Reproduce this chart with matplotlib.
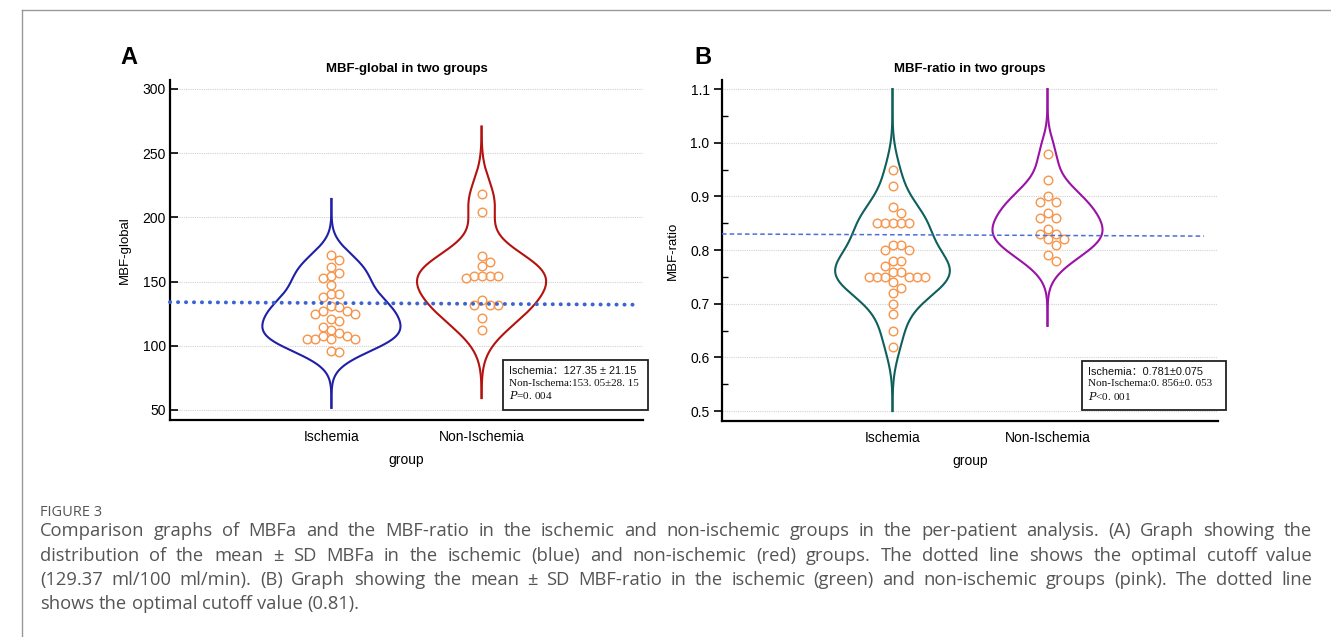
import numpy as np
import matplotlib
matplotlib.use("Agg")
import matplotlib.pyplot as plt
from matplotlib.patches import Rectangle
from matplotlib.lines import Line2D

# ---------------- data ----------------
groups = ["Ischemia", "Non-Ischemia"]

mbf_global_isch = [171, 167, 161, 157, 154, 153, 147, 140, 140, 138, 131, 130,
                   127, 127, 125, 125, 121, 119, 115, 112, 110, 108, 108,
                   105, 105, 105, 105, 96, 95]
mbf_global_non = [218, 204, 170, 165, 162, 154, 154, 154, 154, 153, 136,
                  132, 132, 132, 122, 112]
mbf_global_cutoff = [134, 132]

mbf_ratio_isch = [0.95, 0.92, 0.88, 0.87, 0.85, 0.85, 0.85, 0.85, 0.85,
                  0.81, 0.81, 0.80, 0.80, 0.78, 0.78, 0.77, 0.76, 0.76,
                  0.75, 0.75, 0.75, 0.75, 0.75, 0.75, 0.74, 0.73, 0.72,
                  0.70, 0.68, 0.65, 0.62]
mbf_ratio_non = [0.98, 0.93, 0.90, 0.89, 0.89, 0.87, 0.86, 0.86, 0.84,
                 0.83, 0.83, 0.82, 0.82, 0.81, 0.79, 0.78]
mbf_ratio_cutoff = [0.830, 0.826]

yticks_a = [50, 100, 150, 200, 250, 300]
yticks_b = [0.5, 0.6, 0.7, 0.8, 0.9, 1.0, 1.1]

box_a = ["Ischemia：127.35 ± 21.15", "Non-Ischema:153. 05±28. 15", "=0. 004"]
box_b = ["Ischemia：0.781±0.075", "Non-Ischema:0. 856±0. 053", "<0. 001"]

caption_lines = [
    "Comparison graphs of MBFa and the MBF-ratio in the ischemic and non-ischemic groups in the per-patient analysis. (A) Graph showing the",
    "distribution of the mean ± SD MBFa in the ischemic (blue) and non-ischemic (red) groups. The dotted line shows the optimal cutoff value",
    "(129.37 ml/100 ml/min). (B) Graph showing the mean ± SD MBF-ratio in the ischemic (green) and non-ischemic groups (pink). The dotted line",
    "shows the optimal cutoff value (0.81).",
]

# ---------------- figure ----------------
W, H = 1331, 637
fig = plt.figure(figsize=(W / 100, H / 100), dpi=100)
fig.patch.set_facecolor("white")

SANS = ["Liberation Sans", "DejaVu Sans"]
SERIF = ["Liberation Serif", "DejaVu Serif"]
CJK = ["Liberation Sans", "Noto Sans CJK SC", "DejaVu Sans"]


def fx(px):
    return px / W


def fy(py):
    return 1 - py / H


axA = fig.add_axes([fx(170), fy(420), fx(643) - fx(170), fy(80) - fy(420)])
axB = fig.add_axes([fx(722), fy(421), fx(1218) - fx(722), fy(80) - fy(421)])

axA.set_xlim(-1.075, 2.075)
axA.set_ylim(42.2, 307)
axB.set_xlim(-1.1, 2.1)
axB.set_ylim(0.4814, 1.117)


def kde_curve(vals, cut, lower=None, upper=None):
    v = np.asarray(vals, float)
    n = len(v)
    bw = v.std(ddof=1) * n ** (-1 / 5)
    lo = v.min() - cut * bw
    hi = v.max() + cut * bw
    if upper is not None:
        hi = min(hi, upper)
    if lower is not None:
        lo = max(lo, lower)
    g = np.linspace(lo, hi, 400)
    d = np.exp(-0.5 * ((g[:, None] - v[None, :]) / bw) ** 2).sum(1)
    return g, d / d.max()


def swarm(ax, xc, vals, diam_px):
    trans = ax.transData
    x0 = trans.transform((0, 0))[0]
    x1 = trans.transform((1, 0))[0]
    ppu = x1 - x0
    placed = []
    xs, ys = [], []
    order = [0]
    for i in range(1, 20):
        order += [i, -i]
    for v in sorted(vals, reverse=True):
        py = trans.transform((xc, v))[1]
        for k in order:
            px = k * diam_px
            if all((px - a) ** 2 + (py - b) ** 2 >= (diam_px * 0.98) ** 2 for a, b in placed):
                break
        placed.append((px, py))
        xs.append(xc + px / ppu)
        ys.append(v)
    return xs, ys


def style_axes(ax, yticks, fmt, ylabel, title, major_dir, minor=None):
    for s in ["top", "right"]:
        ax.spines[s].set_visible(False)
    ax.spines["left"].set_linewidth(1.6)
    ax.spines["bottom"].set_linewidth(1.6)
    ax.set_yticks(yticks)
    ax.set_yticklabels([fmt.format(t) for t in yticks], fontfamily=SANS, fontsize=10)
    ax.tick_params(axis="y", direction=major_dir, length=6, width=1.2, pad=3)
    if minor is not None:
        ax.set_yticks(minor, minor=True)
        ax.tick_params(axis="y", which="minor", direction="in", length=4, width=1)
    ax.set_xticks([0, 1])
    ax.set_xticklabels(groups, fontfamily=SANS, fontsize=10)
    ax.tick_params(axis="x", length=0, pad=7)
    ax.set_xlabel("group", fontfamily=SANS, fontsize=10, labelpad=7)
    ax.set_ylabel(ylabel, fontfamily=SANS, fontsize=9.5, labelpad=8)
    ax.set_title(title, fontfamily=SANS, fontsize=9.5, fontweight="bold", pad=6)
    xl = ax.get_xlim()
    for t in yticks:
        ax.plot([xl[0], xl[1] - 0.005], [t, t], color="#d2d2d2", lw=0.8,
                ls=(0, (1, 1)), zorder=0, clip_on=False)


def draw_violin(ax, pos, vals, halfw, color, cut, lower=None, upper=None):
    g, d = kde_curve(vals, cut, lower, upper)
    ax.plot(pos + d * halfw, g, color=color, lw=1.5, zorder=2)
    ax.plot(pos - d * halfw, g, color=color, lw=1.5, zorder=2)


style_axes(axA, yticks_a, "{:d}", "MBF-global", "MBF-global in two groups", "in")
style_axes(axB, yticks_b, "{:.1f}", "MBF-ratio", "MBF-ratio in two groups", "out",
           minor=[0.55, 0.65, 0.75, 0.85, 0.95, 1.05])

draw_violin(axA, 0, mbf_global_isch, 0.46, "#1f1fa8", 3.9)
draw_violin(axA, 1, mbf_global_non, 0.43, "#b3120f", 3.3)
draw_violin(axB, 0, mbf_ratio_isch, 0.37, "#0f5f5c", 4.2, lower=0.5, upper=1.1)
draw_violin(axB, 1, mbf_ratio_non, 0.355, "#9a12a6", 4.0, lower=0.5, upper=1.1)

ORANGE = "#f7944a"
for ax, pos, vals in [(axA, 0, mbf_global_isch), (axA, 1, mbf_global_non),
                      (axB, 0, mbf_ratio_isch), (axB, 1, mbf_ratio_non)]:
    xs, ys = swarm(ax, pos, vals, 8.0)
    ax.plot(xs, ys, ls="none", marker="o", ms=6.2, mfc="none", mec=ORANGE,
            mew=1.0, zorder=3)

# cutoff lines
xa = axA.get_xlim()
axA.plot([xa[0], 2.02], mbf_global_cutoff, color="#3a64d0", lw=2.8,
         ls=(0, (0.05, 2.0)), dash_capstyle="round", zorder=4, clip_on=False)
xb = axB.get_xlim()
axB.plot([xb[0], 2.01], mbf_ratio_cutoff, color="#4a6fd8", lw=1.1,
         ls=(0, (3, 2)), zorder=4, clip_on=False)


# text boxes
def text_box(x0, y0, x1, y1, lines):
    fig.patches.append(Rectangle((fx(x0), fy(y1)), fx(x1) - fx(x0), fy(y0) - fy(y1),
                                 transform=fig.transFigure, fill=False,
                                 edgecolor="#222222", lw=1.3, zorder=5))
    tx = fx(x0 + 6)
    fig.text(tx, fy(y0 + 11), lines[0], family=CJK, fontsize=7.8,
             va="center", ha="left", color="#111111")
    fig.text(tx, fy(y0 + 23), lines[1], family=SERIF, fontsize=8.0,
             va="center", ha="left", color="#111111")
    fig.text(tx, fy(y0 + 35), "$\\mathit{P}$" + lines[2], family=SERIF, fontsize=8.0,
             va="center", ha="left", color="#111111", math_fontfamily="dejavuserif")


text_box(503, 360, 648, 410, box_a)
text_box(1082, 361, 1226, 410, box_b)

# panel letters
fig.text(fx(120), fy(57), "A", family=SANS, fontsize=17, fontweight="bold",
         va="center", ha="left")
fig.text(fx(694), fy(57), "B", family=SANS, fontsize=17, fontweight="bold",
         va="center", ha="left")

# frame lines
fig.add_artist(Line2D([fx(22), 1], [fy(10), fy(10)], transform=fig.transFigure,
                      color="#999999", lw=1))
fig.add_artist(Line2D([fx(22), fx(22)], [fy(10), 0], transform=fig.transFigure,
                      color="#999999", lw=1))

# caption
CAPC = "#555555"
CAPF = ["Open Sans", "DejaVu Sans"]
CAPS = 13.2
fig.text(fx(40), fy(512), "FIGURE 3", family=CAPF, fontsize=10.5, color=CAPC,
         va="center", ha="left")

renderer = fig.canvas.get_renderer()
left_px, right_px = 40, 1312
line_y = [531, 556, 580, 604]
helpers = [fig.text(0, 0, "a a", family=CAPF, fontsize=CAPS),
           fig.text(0, 0, "a", family=CAPF, fontsize=CAPS)]
space_px = helpers[0].get_window_extent(renderer).width - 2 * helpers[1].get_window_extent(renderer).width
for h in helpers:
    h.remove()
for i, line in enumerate(caption_lines):
    words = line.split(" ")
    arts = []
    widths = []
    for w in words:
        t = fig.text(0, fy(line_y[i]), w, family=CAPF, fontsize=CAPS, color=CAPC,
                     va="center", ha="left")
        arts.append(t)
        widths.append(t.get_window_extent(renderer).width)
    if i < len(caption_lines) - 1:
        gap = (right_px - left_px - sum(widths)) / (len(words) - 1)
    else:
        gap = space_px
    x = left_px
    for t, wd in zip(arts, widths):
        t.set_x(fx(x))
        x += wd + gap

fig.savefig("out.png", dpi=100, facecolor="white")
